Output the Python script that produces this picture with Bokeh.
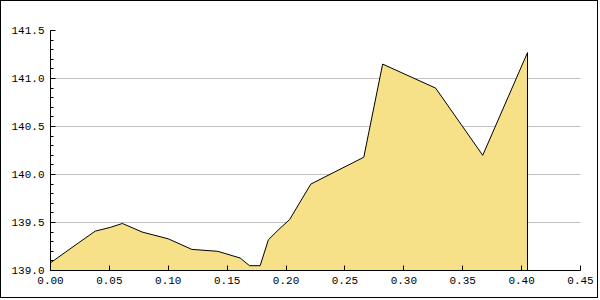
from bokeh.plotting import figure
from bokeh.models import Range1d, SingleIntervalTicker, NumeralTickFormatter
from bokeh.embed import file_html
from bokeh.resources import INLINE

x_values = [0.0, 0.024, 0.038, 0.051, 0.061, 0.078, 0.100, 0.120, 0.142, 0.161,
            0.169, 0.178, 0.185, 0.194, 0.203, 0.221, 0.266, 0.282, 0.327, 0.367, 0.405]
y_values = [139.08, 139.29, 139.41, 139.45, 139.49, 139.40, 139.33, 139.22, 139.20, 139.13,
            139.05, 139.05, 139.32, 139.43, 139.53, 139.90, 140.18, 141.15, 140.90, 140.20, 141.27]
y_base = 139.0

FONT = "Liberation Mono"

p = figure(width=598, height=298, output_backend="svg", toolbar_location=None,
           x_range=Range1d(0, 0.45), y_range=Range1d(139.0, 141.5),
           min_border_left=49, min_border_right=19, min_border_top=29, min_border_bottom=29)
p.styles = {"border": "1px solid black"}
p.outline_line_color = None
p.background_fill_color = "white"
p.border_fill_color = "white"

px = [x_values[0]] + x_values + [x_values[-1]]
py = [y_base] + y_values + [y_base]
p.patch(px, py, fill_color="#F6E188", line_color="black", line_width=1)

p.xgrid.visible = False
p.ygrid.grid_line_color = "#C0C0C0"
p.ygrid.grid_line_width = 1

p.xaxis.ticker = SingleIntervalTicker(interval=0.05, num_minor_ticks=0)
p.yaxis.ticker = SingleIntervalTicker(interval=0.5, num_minor_ticks=5)
p.xaxis.formatter = NumeralTickFormatter(format="0.00")
p.yaxis.formatter = NumeralTickFormatter(format="0.0")

for ax in (p.xaxis, p.yaxis):
    ax.axis_line_color = "black"
    ax.major_tick_line_color = "black"
    ax.minor_tick_line_color = "black"
    ax.major_tick_in = 5
    ax.major_tick_out = 0
    ax.minor_tick_in = 3
    ax.minor_tick_out = 0
    ax.major_label_text_font = FONT
    ax.major_label_text_font_size = "11px"
    ax.major_label_text_color = "black"
    ax.major_label_standoff = 6

open("out.html", "w").write(file_html(p, INLINE))
